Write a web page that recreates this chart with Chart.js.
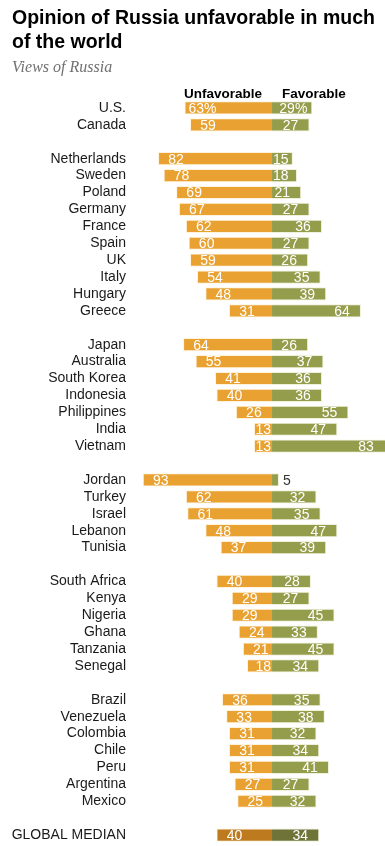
<!DOCTYPE html>
<html>
<head>
<meta charset="utf-8">
<script src="https://cdn.jsdelivr.net/npm/chart.js@4/dist/chart.umd.min.js"></script>
<style>
  html, body { margin: 0; padding: 0; background: #fff; }
  body { width: 385px; height: 846px; position: relative; overflow: hidden; font-family: "Liberation Sans", Arial, sans-serif; }
  #title { position: absolute; left: 12px; top: 5px; width: 372px; font-weight: bold; font-size: 19.5px; line-height: 24px; color: #000; }
  #sub { position: absolute; left: 12px; top: 58px; font-family: "Liberation Serif", serif; font-style: italic; font-size: 16px; color: #707070; }
  #c { position: absolute; left: 0; top: 0; }
</style>
</head>
<body>
<canvas id="c" width="385" height="846"></canvas>
<div id="title">Opinion of Russia unfavorable in much of the world</div>
<div id="sub">Views of Russia</div>
<script>
const countries = ["U.S.","Canada","",
  "Netherlands","Sweden","Poland","Germany","France","Spain","UK","Italy","Hungary","Greece","",
  "Japan","Australia","South Korea","Indonesia","Philippines","India","Vietnam","",
  "Jordan","Turkey","Israel","Lebanon","Tunisia","",
  "South Africa","Kenya","Nigeria","Ghana","Tanzania","Senegal","",
  "Brazil","Venezuela","Colombia","Chile","Peru","Argentina","Mexico","",
  "GLOBAL MEDIAN"];
const unfavorable = [63,59,null,
  82,78,69,67,62,60,59,54,48,31,null,
  64,55,41,40,26,13,13,null,
  93,62,61,48,37,null,
  40,29,29,24,21,18,null,
  36,33,31,31,31,27,25,null,
  40];
const favorable = [29,27,null,
  15,18,21,27,36,27,26,35,39,64,null,
  26,37,36,36,55,47,83,null,
  5,32,35,47,39,null,
  28,27,45,33,45,34,null,
  35,38,32,34,41,27,32,null,
  34];
const pctRows = [0];

const ORANGE = "#E9A131", GREEN = "#949D4B";
const ORANGE_D = "#BD7A1E", GREEN_D = "#6F7338";
const lastIdx = countries.length - 1;
const unfColors = countries.map((c,i) => i === lastIdx ? ORANGE_D : ORANGE);
const favColors = countries.map((c,i) => i === lastIdx ? GREEN_D : GREEN);

const labelPlugin = {
  id: "barLabels",
  afterDatasetsDraw(chart) {
    const ctx = chart.ctx;
    const xs = chart.scales.x;
    const zero = xs.getPixelForValue(0);
    ctx.save();
    ctx.font = "14px 'Liberation Sans', Arial, sans-serif";
    ctx.textBaseline = "middle";
    ctx.save();
    ctx.font = "bold 13.5px 'Liberation Sans', Arial, sans-serif";
    ctx.fillStyle = "#000";
    ctx.textAlign = "right";
    ctx.fillText("Unfavorable", zero - 10, 94);
    ctx.textAlign = "left";
    ctx.fillText("Favorable", zero + 10, 94);
    ctx.restore();
    chart.data.datasets.forEach((ds, di) => {
      const meta = chart.getDatasetMeta(di);
      meta.data.forEach((el, i) => {
        const raw = di === 0 ? unfavorable[i] : favorable[i];
        if (raw === null) return;
        const txt = raw + (pctRows.includes(i) ? "%" : "");
        const w = ctx.measureText(txt).width;
        const y = el.y + 1;
        ctx.textAlign = "center";
        if (di === 0) {
          const left = el.x;
          let cx = Math.min(left + 18, zero - w / 2 - 1);
          ctx.fillStyle = "#fff";
          ctx.fillText(txt, cx, y);
        } else {
          const right = Math.min(el.x, chart.chartArea.right);
          if (raw < 10) {
            ctx.fillStyle = "#333";
            ctx.textAlign = "left";
            ctx.fillText(txt, right + 4, y);
          } else {
            let cx = Math.max(right - 19, zero + w / 2 + 1);
            ctx.fillStyle = "#fff";
            ctx.fillText(txt, cx, y);
          }
        }
      });
    });
    ctx.restore();
  }
};

new Chart(document.getElementById("c"), {
  type: "bar",
  data: {
    labels: countries,
    datasets: [
      { label: "Unfavorable", data: unfavorable.map(v => v === null ? null : -v),
        backgroundColor: unfColors, borderColor: "rgba(255,240,210,0.8)", borderWidth: 1 },
      { label: "Favorable", data: favorable,
        backgroundColor: favColors, borderColor: "rgba(235,238,210,0.8)", borderWidth: 1 }
    ]
  },
  options: {
    indexAxis: "y",
    responsive: false,
    animation: false,
    layout: { padding: { top: 99.5, bottom: 2.5, left: 0, right: 0 } },
    datasets: { bar: { barPercentage: 0.78, categoryPercentage: 1.0 } },
    plugins: { legend: { display: false }, tooltip: { enabled: false } },
    scales: {
      x: { stacked: true, display: false, min: -95, max: 81.3 },
      y: {
        stacked: true,
        grid: { display: false, drawTicks: false },
        border: { display: false },
        ticks: { autoSkip: false, padding: 14, color: "#1a1a1a",
          font: { family: "'Liberation Sans', Arial, sans-serif", size: 14 } },
        afterFit(scale) { scale.width = 140; scale.paddingTop = 0; scale.paddingBottom = 0; }
      }
    }
  },
  plugins: [labelPlugin]
});
</script>
</body>
</html>
